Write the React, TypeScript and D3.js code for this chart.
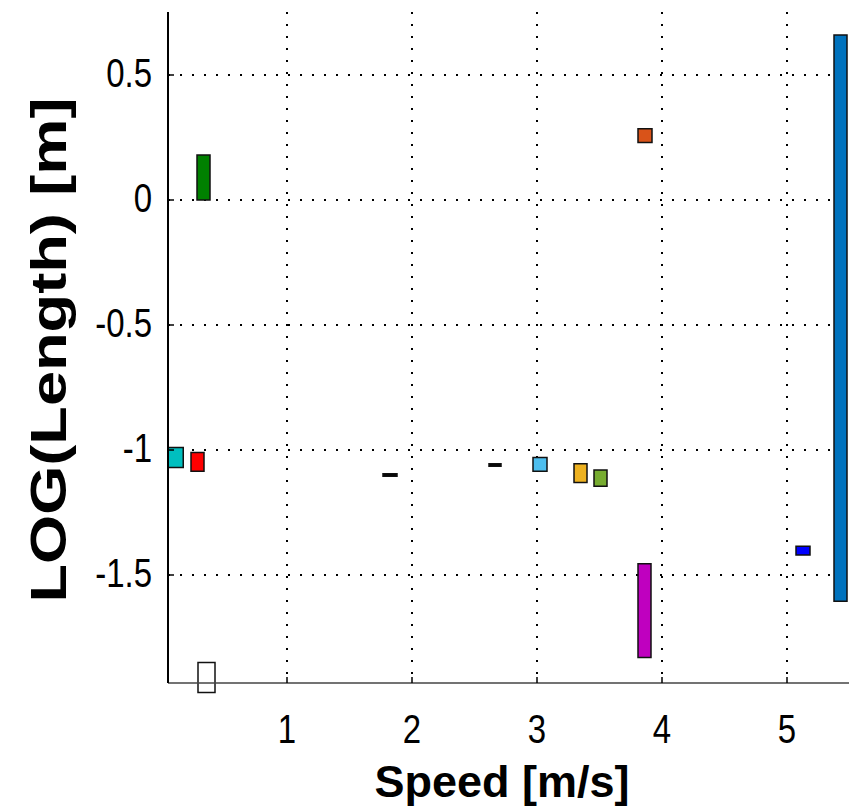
import React from 'react'
import * as d3 from 'd3'

// speed range [m/s] and log length range [m] of each box
const speedLo = [0.05, 0.232, 0.28, 0.288, 1.768, 2.616, 2.968, 3.296, 3.456, 3.808, 3.808, 5.072, 5.376]
const speedHi = [0.17, 0.336, 0.384, 0.424, 1.88, 2.712, 3.08, 3.4, 3.56, 3.92, 3.912, 5.184, 5.48]
const lenHi = [-0.99, -1.01, 0.18, -1.85, -1.095, -1.055, -1.03, -1.055, -1.08, 0.285, -1.455, -1.385, 0.66]
const lenLo = [-1.07, -1.085, 0.0, -1.97, -1.105, -1.065, -1.085, -1.13, -1.145, 0.23, -1.83, -1.42, -1.605]
const colors = ['#00bfbf', '#ff0000', '#008000', '#ffffff', '#000000', '#000000', '#4dbeee', '#edb120', '#77ac30', '#d95319', '#bf00bf', '#0000ff', '#0072bd']

const xTicks = [1, 2, 3, 4, 5]
const yTicks = [-1.5, -1, -0.5, 0, 0.5]

const W = 849, H = 809
const L = 168, R = 849, T = 12, B = 683

export default function App() {
  const x = d3.scaleLinear().domain([0.048, 5.496]).range([L, R])
  const y = d3.scaleLinear().domain([-1.932, 0.752]).range([B, T])
  const font = '"Liberation Sans", Arial, Helvetica, sans-serif'
  return (
    <svg width={W} height={H} style={{ position: 'absolute', left: 0, top: 0, background: '#fff' }} fontFamily={font}>
      {/* grid */}
      {xTicks.map(t => (
        <line key={'gx' + t} x1={x(t)} x2={x(t)} y1={T} y2={B} stroke="#000" strokeWidth={2} strokeDasharray="2,10" />
      ))}
      {yTicks.map(t => (
        <line key={'gy' + t} x1={L} x2={R} y1={y(t)} y2={y(t)} stroke="#000" strokeWidth={2} strokeDasharray="2,10" />
      ))}
      {/* boxes */}
      {speedLo.map((s, i) => {
        const h = Math.max(y(lenLo[i]) - y(lenHi[i]), 2)
        return (
          <rect key={i} x={x(s)} y={y(lenHi[i])} width={x(speedHi[i]) - x(s)} height={h}
            fill={colors[i]} stroke="#111" strokeWidth={1.5} />
        )
      })}
      {/* axes */}
      <line x1={L} x2={R} y1={B} y2={B} stroke="#444" strokeWidth={1.5} />
      <line x1={L} x2={L} y1={T} y2={B} stroke="#000" strokeWidth={2} />
      {yTicks.map(t => (
        <g key={'ty' + t}>
          <line x1={L} x2={L + 6} y1={y(t)} y2={y(t)} stroke="#000" strokeWidth={1.5} />
          <text transform={`translate(${L - 16},${y(t) + 12}) scale(1,1.22)`} textAnchor="end" fontSize={33}>{t}</text>
        </g>
      ))}
      {xTicks.map(t => (
        <g key={'tx' + t}>
          <line x1={x(t)} x2={x(t)} y1={B} y2={B - 6} stroke="#000" strokeWidth={1.5} />
          <text transform={`translate(${x(t)},743) scale(1,1.22)`} textAnchor="middle" fontSize={33}>{t}</text>
        </g>
      ))}
      <text x={502} y={797} textAnchor="middle" fontSize={45} fontWeight="bold">Speed [m/s]</text>
      <text transform={`translate(66,350) rotate(-90)`} textAnchor="middle" fontSize={50} fontWeight="bold"
        textLength={505} lengthAdjust="spacingAndGlyphs">LOG(Length) [m]</text>
    </svg>
  )
}
